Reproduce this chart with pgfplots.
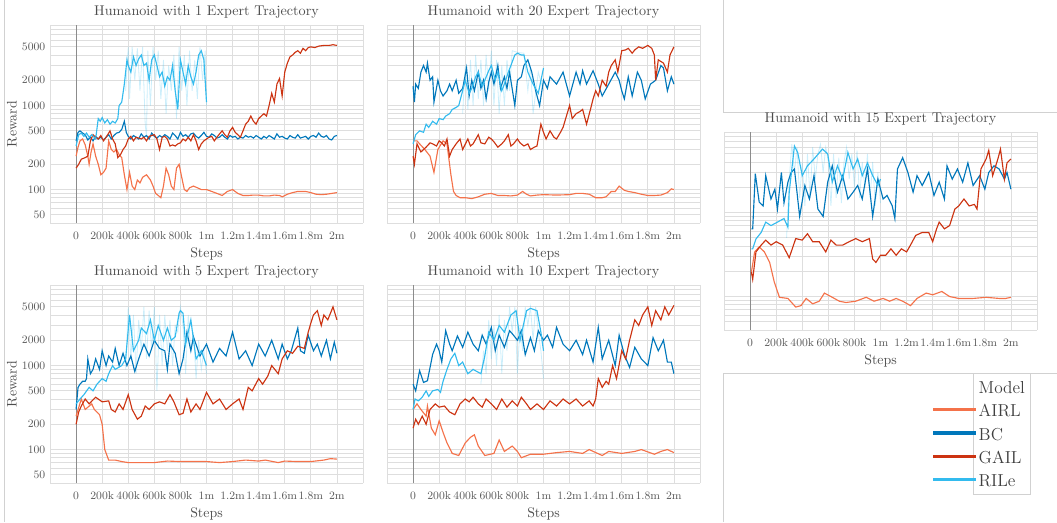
\documentclass[border=0pt]{standalone}
\usepackage{pgfplots}
\pgfplotsset{compat=1.18}
\definecolor{airl}{HTML}{F4724A}
\definecolor{bc}{HTML}{0077BB}
\definecolor{gail}{HTML}{CC3311}
\definecolor{rile}{HTML}{33BBEE}
\pgfplotsset{faint/.style={opacity=0.25, line width=0.6pt}}
\newcommand{\humaxis}[1]{\begin{axis}[
  scale only axis, width=234.75pt, height=148.5pt,
  ymode=log, xmin=-200, xmax=2200, ymin=40, ymax=9100,
  axis line style={draw=none},
  xtick={-200,0,200,400,600,800,1000,1200,1400,1600,1800,2000,2200},
  xticklabels={,0,200k,400k,600k,800k,1m,1.2m,1.4m,1.6m,1.8m,2m,},
  ytick={50,100,200,500,1000,2000,5000},
  yticklabels={50,100,200,500,1000,2000,5000},
  minor ytick={40,60,70,80,90,300,400,600,700,800,900,3000,4000,6000,7000,8000,9000},
  grid=both,
  major grid style={black!13,line width=0.6pt},
  minor grid style={black!13,line width=0.6pt},
  major tick length=0pt, minor tick length=0pt,
  tick label style={font=\fontsize{8.5}{10}\selectfont, text=black!65},
  xticklabel style={yshift=-3.3pt},
  title style={font=\fontsize{10.6}{12}\selectfont, text=black!70, yshift=-4.5pt},
  label style={font=\fontsize{10.4}{12}\selectfont, text=black!70},
  xlabel={Steps}, xlabel style={yshift=1.5pt}, ylabel shift=-3pt,
  every axis plot/.append style={line width=0.85pt},
  anchor=south west,
  #1]
  \draw[black!45,line width=0.6pt] (axis cs:0,40) -- (axis cs:0,9100);}
\begin{document}
\begin{tikzpicture}[x=0.75pt,y=0.75pt]
\path[use as bounding box] (0,0) rectangle (1057,522);
\draw[black!18,line width=0.6pt] (4,0) -- (4,522);
\draw[black!18,line width=0.6pt] (723,522) -- (723,410) -- (1060,410);
\draw[black!18,line width=0.6pt] (723,0) -- (723,149) -- (1060,149);

% ---------- 1 expert ----------
\humaxis{at={(37.5pt,224.25pt)}, title={Humanoid with 1 Expert Trajectory}, ylabel={Reward}}
\addplot[rile,faint] coordinates {(380,1500)(400,5000)(410,1200)(430,5000)(450,2000)(470,4800)(490,1500)(510,5000)(530,600)(540,420)(550,4500)(570,1000)(590,5000)(610,2000)(630,4500)(650,1200)(670,3500)(690,800)(710,3000)(730,1500)(750,4000)(770,700)(790,5000)(810,1500)(830,4000)(850,1000)(870,4500)(890,1500)(910,3500)(930,1200)(950,5000)(970,2000)(990,4500)(1000,1000)};
\addplot[airl] coordinates {(0,250)(15,320)(30,380)(50,400)(70,340)(90,250)(100,200)(115,280)(130,350)(150,250)(170,200)(190,150)(210,160)(230,180)(250,380)(270,300)(290,280)(310,300)(330,260)(350,240)(370,150)(390,100)(410,160)(430,110)(450,100)(470,130)(490,120)(510,140)(540,150)(570,130)(590,110)(610,90)(630,85)(650,80)(670,110)(690,180)(710,150)(730,110)(750,100)(770,180)(790,200)(810,140)(830,100)(850,95)(870,105)(900,110)(930,105)(960,100)(1000,100)(1040,95)(1080,90)(1120,85)(1160,95)(1200,100)(1240,90)(1280,85)(1320,85)(1360,86)(1400,86)(1440,84)(1480,84)(1520,86)(1560,85)(1580,82)(1620,88)(1660,92)(1700,95)(1760,95)(1800,92)(1840,88)(1880,87)(1920,88)(1960,90)(2000,92)};
\addplot[bc] coordinates {(0,380)(15,480)(30,500)(50,470)(70,450)(90,390)(110,420)(130,380)(150,430)(170,400)(190,420)(210,390)(230,420)(250,450)(270,400)(290,440)(310,470)(330,480)(350,520)(370,650)(385,480)(400,430)(420,400)(440,440)(460,420)(480,400)(500,460)(520,420)(540,440)(560,400)(580,470)(600,430)(620,410)(640,440)(660,420)(680,450)(700,430)(720,400)(740,470)(760,440)(780,400)(800,480)(820,430)(840,450)(860,420)(880,460)(900,470)(920,430)(940,410)(960,440)(980,480)(1000,430)(1020,420)(1040,460)(1060,440)(1080,410)(1100,420)(1120,450)(1140,420)(1160,400)(1180,440)(1200,420)(1220,430)(1240,400)(1260,420)(1280,410)(1300,440)(1320,420)(1340,430)(1360,410)(1380,440)(1400,420)(1420,400)(1440,430)(1460,410)(1480,440)(1500,420)(1520,400)(1540,460)(1560,420)(1580,430)(1600,410)(1620,400)(1640,440)(1660,420)(1680,410)(1700,450)(1720,410)(1740,420)(1760,430)(1780,400)(1800,430)(1820,440)(1840,420)(1860,470)(1880,430)(1900,420)(1920,440)(1940,400)(1960,390)(1980,430)(2000,440)};
\addplot[gail] coordinates {(0,180)(20,200)(40,230)(70,240)(90,250)(110,380)(130,450)(150,420)(170,400)(190,440)(210,380)(230,420)(250,470)(260,500)(280,400)(300,350)(320,240)(340,260)(360,300)(380,330)(400,400)(420,430)(440,380)(460,420)(480,410)(500,400)(520,420)(540,380)(560,430)(580,440)(600,450)(620,400)(640,300)(660,420)(680,430)(700,400)(720,330)(740,340)(760,330)(780,350)(800,360)(820,400)(840,380)(860,420)(880,380)(900,450)(920,380)(940,300)(960,350)(980,380)(1000,400)(1020,420)(1040,430)(1060,380)(1080,420)(1100,460)(1120,500)(1140,450)(1160,420)(1180,500)(1200,550)(1220,480)(1240,450)(1260,420)(1280,500)(1300,600)(1320,650)(1340,750)(1360,650)(1380,600)(1400,700)(1420,750)(1440,800)(1460,750)(1480,1000)(1500,1400)(1520,1100)(1540,1800)(1560,2100)(1580,1300)(1600,2500)(1620,3200)(1640,3800)(1660,4000)(1680,4300)(1700,4500)(1720,4200)(1740,4800)(1760,4500)(1780,4900)(1800,5000)(1830,4900)(1860,5100)(1900,5200)(1940,5200)(1970,5300)(2000,5200)};
\addplot[rile] coordinates {(0,330)(20,450)(40,470)(60,430)(80,470)(100,420)(120,450)(150,400)(170,700)(185,650)(200,720)(220,620)(240,680)(260,600)(280,650)(300,620)(320,700)(330,1000)(350,1100)(370,1800)(390,3500)(400,3000)(420,2500)(440,3800)(460,3000)(480,3600)(500,4000)(520,3000)(540,3200)(560,2000)(580,3500)(600,4000)(620,3000)(640,2200)(660,2500)(680,1700)(700,2200)(720,2000)(740,3000)(760,1500)(780,900)(800,3500)(820,2500)(840,1800)(860,3000)(880,2200)(900,1800)(920,2500)(940,4000)(960,4500)(980,3500)(1000,1100)};
\end{axis}

% ---------- 20 experts ----------
\humaxis{yticklabels={}, at={(290.25pt,224.25pt)}, title={Humanoid with 20 Expert Trajectory}}
\addplot[rile,faint] coordinates {(380,800)(400,3000)(420,900)(440,3500)(460,1000)(480,4000)(500,1200)(520,3500)(540,1000)(560,4000)(580,1500)(600,4500)(620,1000)(640,3500)(660,800)(680,3000)(700,1000)(720,3500)(740,1500)(760,4500)(800,4300)(850,4200)(880,1500)(900,3000)(920,800)(960,2500)(1000,1500)};
\addplot[airl] coordinates {(0,380)(30,380)(50,350)(90,300)(130,250)(160,160)(190,300)(230,380)(260,350)(290,150)(310,95)(330,85)(360,80)(400,80)(450,78)(500,82)(550,88)(600,90)(650,85)(700,85)(750,84)(800,86)(840,95)(870,88)(900,84)(950,86)(1000,87)(1100,86)(1200,87)(1250,90)(1300,90)(1350,88)(1400,80)(1450,80)(1480,82)(1520,95)(1550,95)(1580,110)(1620,98)(1650,95)(1700,92)(1750,88)(1800,85)(1850,85)(1900,86)(1950,92)(1980,102)(2000,100)};
\addplot[bc] coordinates {(0,1700)(10,1100)(20,1800)(40,1600)(60,2500)(80,3000)(100,2500)(110,3200)(130,2000)(150,2200)(160,1100)(190,2000)(210,1500)(230,1300)(260,1500)(280,1800)(300,1500)(330,2000)(350,1400)(380,1600)(410,2800)(430,1300)(450,2000)(470,1500)(500,2500)(520,1600)(540,2000)(560,1200)(580,1900)(600,2500)(620,1800)(650,3000)(670,1600)(700,2200)(720,1600)(740,2500)(780,1000)(800,2000)(830,2200)(850,3000)(880,3500)(910,2500)(940,1500)(970,1000)(1000,2000)(1030,1600)(1050,2200)(1100,1800)(1150,2500)(1200,1300)(1250,2500)(1280,1800)(1300,2600)(1330,1800)(1380,2600)(1420,1800)(1450,1300)(1500,1800)(1550,2500)(1580,2000)(1600,1500)(1620,1200)(1650,2200)(1680,1300)(1720,2500)(1750,2000)(1780,1200)(1820,1800)(1860,2000)(1900,3000)(1920,2800)(1950,1500)(1980,2200)(2000,1800)};
\addplot[gail] coordinates {(0,250)(10,200)(30,350)(60,280)(100,320)(130,360)(150,350)(180,330)(200,380)(220,360)(240,330)(260,400)(280,250)(300,300)(330,350)(360,400)(380,300)(420,400)(440,330)(460,350)(500,450)(520,360)(550,350)(580,420)(600,400)(620,370)(650,320)(680,350)(700,380)(730,450)(750,330)(770,350)(800,400)(820,360)(850,330)(880,350)(900,300)(930,320)(950,330)(980,600)(1000,480)(1020,400)(1050,500)(1080,420)(1100,400)(1130,480)(1150,550)(1170,700)(1200,1000)(1220,700)(1250,800)(1280,850)(1300,900)(1330,600)(1360,900)(1380,1200)(1400,1500)(1420,1300)(1450,2000)(1480,1700)(1500,2500)(1520,3000)(1550,3500)(1570,2500)(1600,4500)(1630,4600)(1650,4800)(1680,4200)(1700,4600)(1730,5000)(1760,4800)(1800,5200)(1830,4800)(1850,4000)(1860,2000)(1880,3500)(1920,3200)(1950,2500)(1970,4000)(2000,5000)};
\addplot[rile] coordinates {(0,350)(20,450)(50,500)(80,480)(100,600)(120,550)(150,650)(180,600)(200,700)(230,680)(250,750)(280,800)(300,900)(330,950)(350,1000)(380,1500)(400,2000)(430,1400)(450,1600)(480,2200)(500,2500)(530,1700)(550,2000)(580,2600)(600,3000)(630,2000)(650,2500)(680,1500)(700,1800)(730,2500)(750,3000)(780,4000)(800,4200)(830,4000)(850,4000)(880,2500)(920,1800)(960,1400)(1000,2800)};
\end{axis}

% ---------- 5 experts ----------
\humaxis{at={(37.5pt,29.25pt)}, title={Humanoid with 5 Expert Trajectory}, ylabel={Reward}}
\addplot[rile,faint] coordinates {(380,900)(400,5000)(420,1200)(440,4000)(460,800)(480,3500)(500,1500)(520,5000)(540,1200)(560,4500)(580,1500)(600,5000)(620,500)(640,4000)(660,1000)(680,4000)(700,1500)(720,3500)(740,1000)(760,3000)(780,2500)(800,5000)(820,3000)(840,800)(860,4000)(880,1500)(900,2500)(920,700)(940,2000)(960,900)(980,1500)(1000,800)};
\addplot[airl] coordinates {(0,250)(40,400)(70,300)(120,350)(140,300)(180,260)(200,200)(220,100)(250,75)(300,75)(350,72)(400,70)(500,70)(600,70)(700,73)(800,72)(900,72)(1000,72)(1100,70)(1200,72)(1300,75)(1400,73)(1450,75)(1550,70)(1600,73)(1700,72)(1800,72)(1900,75)(1950,78)(2000,77)};
\addplot[bc] coordinates {(0,300)(15,550)(30,600)(50,650)(70,650)(80,700)(90,1200)(110,800)(130,900)(150,1200)(180,900)(200,1500)(230,1000)(250,1300)(280,1100)(300,1600)(330,1000)(360,1400)(390,1000)(420,1300)(450,850)(480,1200)(520,1800)(560,1300)(600,2000)(640,1600)(680,1500)(700,900)(720,1800)(760,1400)(790,800)(820,1200)(850,2500)(880,1500)(900,2200)(950,1300)(1000,1800)(1050,1100)(1100,1600)(1150,1300)(1200,2500)(1250,1200)(1300,1500)(1350,1000)(1400,1800)(1450,1300)(1500,2000)(1550,1200)(1580,1800)(1620,1200)(1650,1500)(1700,2800)(1720,1500)(1750,1400)(1780,2300)(1820,1500)(1850,1800)(1880,1300)(1920,2000)(1950,1200)(1980,1900)(2000,1400)};
\addplot[gail] coordinates {(0,200)(20,280)(40,330)(70,400)(100,350)(150,420)(200,370)(250,380)(270,300)(300,280)(330,350)(360,300)(400,450)(430,300)(470,230)(500,250)(530,330)(560,300)(600,350)(640,370)(680,350)(720,450)(750,370)(790,260)(820,270)(850,400)(880,280)(920,350)(950,300)(1000,480)(1050,350)(1100,400)(1150,300)(1200,350)(1250,400)(1280,300)(1320,550)(1350,500)(1400,700)(1430,600)(1470,750)(1500,1000)(1550,800)(1580,1200)(1620,1500)(1660,1400)(1700,1700)(1750,1600)(1780,2500)(1800,3200)(1820,4000)(1850,4500)(1880,3000)(1900,4000)(1930,3500)(1970,5000)(2000,3500)};
\addplot[rile] coordinates {(0,350)(30,400)(60,450)(100,550)(130,500)(160,600)(200,700)(230,650)(250,800)(280,1000)(300,900)(350,1000)(380,1200)(410,4000)(440,1500)(480,2000)(500,2800)(540,2400)(570,3500)(600,2000)(630,3000)(670,2000)(700,2800)(730,2000)(760,2200)(790,4200)(800,4500)(820,4200)(840,1800)(880,3500)(920,1200)(960,1500)(1000,1000)};
\end{axis}

% ---------- 10 experts ----------
\humaxis{yticklabels={}, at={(290.25pt,29.25pt)}, title={Humanoid with 10 Expert Trajectory}}
\addplot[rile,faint] coordinates {(520,600)(540,1500)(560,800)(580,3500)(600,1200)(620,3000)(640,1000)(660,4000)(680,800)(700,3500)(720,1500)(740,5000)(760,2500)(780,5000)(800,800)(820,3000)(840,1500)(860,5000)(880,3000)(900,5000)(920,2000)(940,5000)(960,2500)(980,1500)(1000,700)};
\addplot[airl] coordinates {(0,300)(30,350)(60,300)(100,250)(110,330)(140,180)(170,150)(200,220)(230,160)(260,120)(300,90)(350,85)(400,120)(440,140)(470,150)(500,110)(550,85)(620,90)(660,130)(700,95)(760,110)(800,95)(830,80)(900,88)(1000,88)(1100,92)(1200,95)(1300,90)(1350,100)(1450,85)(1500,95)(1600,90)(1700,95)(1750,100)(1850,88)(1900,95)(1950,100)(2000,92)};
\addplot[bc] coordinates {(0,600)(20,500)(50,870)(80,630)(110,660)(150,1360)(180,1800)(200,1500)(220,1100)(250,2600)(280,1800)(300,1500)(340,2250)(380,1650)(420,2500)(460,1800)(500,1500)(530,2300)(560,1800)(600,2850)(630,1500)(660,2300)(700,1650)(740,2600)(770,2300)(800,2000)(830,2600)(860,1350)(900,2150)(930,1500)(960,2600)(1000,2000)(1030,2300)(1070,1650)(1100,2850)(1150,1800)(1200,1500)(1250,2000)(1300,1350)(1330,2000)(1380,1100)(1420,2850)(1450,1200)(1500,2000)(1550,1000)(1580,2300)(1620,1350)(1660,950)(1700,1650)(1750,1200)(1800,1000)(1840,2150)(1880,1500)(1920,2000)(1950,1100)(1980,1100)(2000,800)};
\addplot[gail] coordinates {(0,180)(20,230)(40,200)(70,250)(100,200)(130,300)(170,350)(200,320)(240,330)(280,280)(320,260)(360,350)(400,400)(430,370)(460,420)(500,350)(530,320)(560,400)(600,350)(640,300)(680,400)(720,320)(760,380)(800,330)(830,420)(870,350)(900,300)(950,350)(1000,300)(1050,380)(1100,330)(1150,400)(1200,350)(1250,400)(1300,330)(1350,380)(1380,330)(1400,400)(1420,700)(1450,550)(1480,650)(1500,600)(1530,1000)(1560,700)(1600,1500)(1630,1200)(1660,2000)(1700,3500)(1730,3000)(1760,4000)(1800,5000)(1830,3000)(1860,4500)(1900,3500)(1930,5000)(1960,4000)(2000,5200)};
\addplot[rile] coordinates {(0,300)(15,400)(40,380)(70,420)(100,500)(120,430)(150,500)(190,520)(210,480)(230,650)(260,900)(290,1200)(320,1400)(350,1000)(380,1100)(420,800)(460,900)(520,800)(550,1300)(580,2500)(620,2000)(660,3000)(700,2500)(750,4000)(790,4500)(820,2000)(870,4500)(900,4800)(950,4500)(980,2500)(1000,1500)};
\end{axis}

% ---------- 15 experts ----------
\humaxis{yticklabels={}, at={(543pt,144pt)}, title={Humanoid with 15 Expert Trajectory}}
\addplot[rile,faint] coordinates {(280,500)(300,2500)(320,6500)(340,3000)(360,6000)(380,1500)(400,4000)(420,1200)(440,5000)(460,1500)(480,6000)(500,2500)(520,5000)(540,6500)(560,3000)(580,6000)(600,4000)(620,1200)(640,5000)(660,1500)(680,4500)(700,1300)(720,4000)(740,6000)(760,2500)(780,5000)(800,2000)(820,5500)(840,1500)(860,4000)(880,2000)(900,5000)(920,1500)(940,4000)(960,1200)(980,3000)(1000,1300)};
\addplot[airl] coordinates {(10,195)(35,340)(70,390)(110,340)(150,255)(185,150)(225,98)(290,95)(350,75)(390,78)(430,95)(480,82)(530,88)(570,110)(620,100)(685,88)(735,85)(810,88)(890,98)(950,88)(1020,95)(1070,88)(1120,95)(1170,88)(1230,78)(1280,95)(1350,110)(1400,105)(1470,115)(1530,100)(1600,95)(1710,95)(1810,98)(1910,95)(1960,95)(2000,98)};
\addplot[bc] coordinates {(10,640)(20,640)(40,2900)(70,1330)(100,1200)(120,2750)(160,1450)(190,1900)(210,1100)(240,3000)(260,1300)(290,2300)(315,3000)(340,3300)(380,900)(420,2100)(455,1450)(490,2750)(520,1100)(560,900)(595,2300)(630,3600)(670,1750)(710,2750)(750,1450)(790,1750)(825,2100)(860,1450)(900,3300)(940,900)(980,2500)(1020,1450)(1050,1600)(1090,1200)(1110,850)(1130,3300)(1170,4500)(1210,3000)(1250,1750)(1280,2750)(1320,2100)(1370,3000)(1410,1600)(1450,2300)(1490,1450)(1510,3600)(1550,2500)(1590,3300)(1630,2300)(1670,3900)(1710,2100)(1760,2750)(1800,1900)(1830,3000)(1870,3600)(1910,3300)(1950,2500)(1970,3000)(2000,1900)};
\addplot[gail] coordinates {(10,195)(20,160)(45,340)(85,410)(120,470)(160,410)(200,450)(250,410)(300,290)(350,490)(400,470)(440,560)(480,450)(530,450)(580,340)(620,470)(660,410)(710,410)(760,450)(810,490)(860,450)(915,490)(940,280)(965,255)(1000,310)(1040,310)(1080,370)(1120,310)(1160,370)(1200,340)(1230,410)(1270,535)(1320,580)(1370,580)(1400,450)(1430,640)(1450,770)(1490,640)(1530,700)(1570,1100)(1600,1200)(1640,1450)(1680,1200)(1720,1250)(1740,1100)(1770,3300)(1810,4350)(1830,5500)(1860,2750)(1900,4350)(1920,5700)(1950,2500)(1970,3900)(2000,4350)};
\addplot[rile] coordinates {(10,370)(20,370)(45,485)(85,580)(120,770)(160,700)(210,770)(260,850)(290,670)(300,1750)(340,6200)(365,5200)(400,2750)(440,3600)(490,4350)(555,5700)(595,5000)(630,2300)(670,3600)(710,2500)(750,5200)(790,3300)(825,4350)(860,2750)(900,3900)(940,2750)(980,2100)(1000,2500)};
\end{axis}

% ---------- legend ----------
\begin{axis}[hide axis, scale only axis, width=250.5pt, height=111.75pt,
  at={(542.25pt,0pt)}, anchor=south west, xmin=0, xmax=1, ymin=0, ymax=1,
  legend cell align=left,
  legend image code/.code={\draw[overlay,#1,line width=2.5pt] (-33pt,0.6pt) -- (-1pt,0.6pt);},
  legend style={at={(0.7485,1)}, anchor=north west, draw=black!18, line width=0.6pt,
    font=\fontsize{13}{15}\selectfont, text=black!75,
    nodes={inner sep=1pt, text height=9.5pt, text depth=0pt},
    row sep=6pt, inner xsep=3pt, inner ysep=4.5pt}]
\addlegendimage{empty legend}
\addlegendentry{Model\hspace{14pt}}
\addlegendimage{airl}
\addlegendentry{AIRL}
\addlegendimage{bc}
\addlegendentry{BC}
\addlegendimage{gail}
\addlegendentry{GAIL}
\addlegendimage{rile}
\addlegendentry{RILe}
\end{axis}
\end{tikzpicture}
\end{document}
